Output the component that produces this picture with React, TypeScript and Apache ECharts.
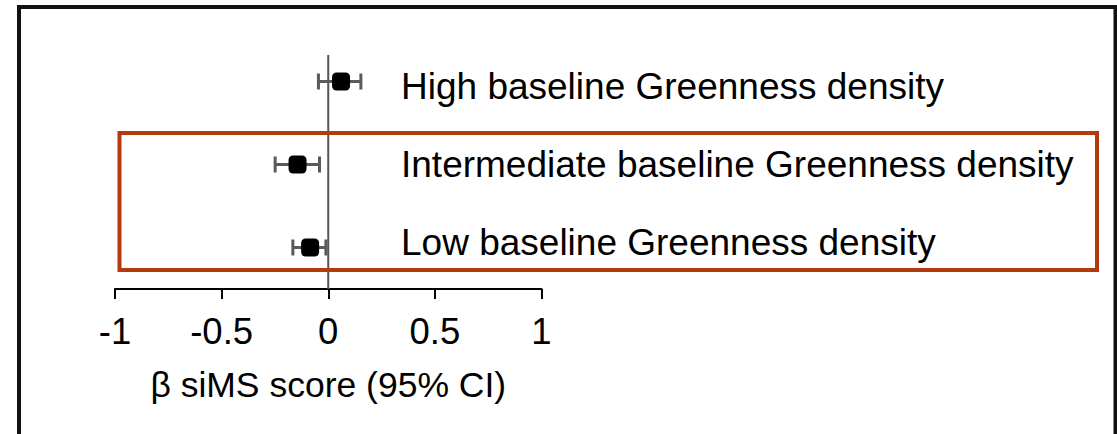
import React, { useEffect, useRef } from "react";
import * as echarts from "echarts";

const categories = [
  "High baseline Greenness density",
  "Intermediate baseline Greenness density",
  "Low baseline Greenness density",
];
const estimates = [0.06, -0.144, -0.085];
const lowerCI = [-0.046, -0.249, -0.166];
const upperCI = [0.153, -0.041, -0.011];
const xTicks = { min: -1, max: 1, interval: 0.5 };
const zeroLine = [
  [0, 0],
  [0, 0.94],
];
const axisTitle = "β siMS score (95% CI)";

const FONT = "'Liberation Sans', Arial, sans-serif";

export default function App() {
  const ref = useRef<HTMLDivElement>(null);
  useEffect(() => {
    document.body.style.margin = "0";
    if (!ref.current) return;
    const chart = echarts.init(ref.current, undefined, { renderer: "svg" });
    const whiskerColor = "#5a5a5a";
    chart.setOption({
      animation: false,
      backgroundColor: "#fff",
      grid: [
        { left: 115, right: 575.5, top: 40, height: 249, outerBoundsMode: "none" },
        { left: 115, right: 575.5, top: 47, height: 234, outerBoundsMode: "none" },
      ],
      xAxis: [
        {
          type: "value",
          gridIndex: 0,
          min: xTicks.min,
          max: xTicks.max,
          interval: xTicks.interval,
          splitLine: { show: false },
          axisLine: { show: true, lineStyle: { color: "#000", width: 2 } },
          axisTick: { show: true, length: 10, lineStyle: { color: "#000", width: 2 } },
          axisLabel: { fontSize: 36.5, color: "#000", fontFamily: FONT, margin: 24 },
          name: axisTitle,
          nameLocation: "middle",
          nameGap: 78,
          nameTextStyle: { fontSize: 35.5, color: "#000", fontFamily: FONT },
        },
        {
          type: "value",
          gridIndex: 1,
          min: xTicks.min,
          max: xTicks.max,
          show: false,
        },
      ],
      yAxis: [
        {
          type: "category",
          gridIndex: 0,
          data: categories,
          inverse: true,
          show: false,
        },
        {
          type: "category",
          gridIndex: 1,
          data: categories,
          inverse: true,
          position: "right",
          offset: -140.5,
          axisLine: { show: false },
          axisTick: { show: false },
          splitLine: { show: false },
          axisLabel: { fontSize: 37, color: "#000", fontFamily: FONT, margin: 0, align: "left" },
        },
        {
          type: "value",
          gridIndex: 0,
          min: 0,
          max: 1,
          show: false,
        },
      ],
      graphic: [
        {
          type: "rect",
          shape: { x: 19, y: 7, width: 1096.5, height: 500 },
          style: { fill: "none", stroke: "#111", lineWidth: 4 },
          z: 100,
        },
        {
          type: "rect",
          shape: { x: 119.5, y: 133, width: 977.5, height: 137 },
          style: { fill: "none", stroke: "#B5390F", lineWidth: 4 },
          z: 100,
        },
      ],
      series: [
        {
          type: "line",
          xAxisIndex: 0,
          yAxisIndex: 2,
          data: zeroLine,
          symbol: "none",
          lineStyle: { color: "#555", width: 2 },
          silent: true,
          z: 1,
        },
        {
          type: "custom",
          xAxisIndex: 0,
          yAxisIndex: 0,
          data: categories.map((c, i) => [lowerCI[i], i, upperCI[i]]),
          encode: { x: [0, 2], y: 1 },
          renderItem: (params: any, api: any) => {
            const y = api.coord([0, api.value(1)])[1];
            const x1 = api.coord([api.value(0), api.value(1)])[0];
            const x2 = api.coord([api.value(2), api.value(1)])[0];
            const h = 8;
            const style = { stroke: whiskerColor, lineWidth: 3 };
            return {
              type: "group",
              children: [
                { type: "line", shape: { x1, y1: y, x2, y2: y }, style },
                { type: "line", shape: { x1, y1: y - h, x2: x1, y2: y + h }, style },
                { type: "line", shape: { x1: x2, y1: y - h, x2, y2: y + h }, style },
              ],
            };
          },
          z: 2,
        },
        {
          type: "scatter",
          xAxisIndex: 0,
          yAxisIndex: 0,
          data: categories.map((c, i) => [estimates[i], i]),
          symbol: "roundRect",
          symbolSize: 18,
          itemStyle: { color: "#000", opacity: 1 },
          z: 3,
        },
      ],
    });
    return () => chart.dispose();
  }, []);
  return <div ref={ref} style={{ width: 1117, height: 434 }} />;
}
